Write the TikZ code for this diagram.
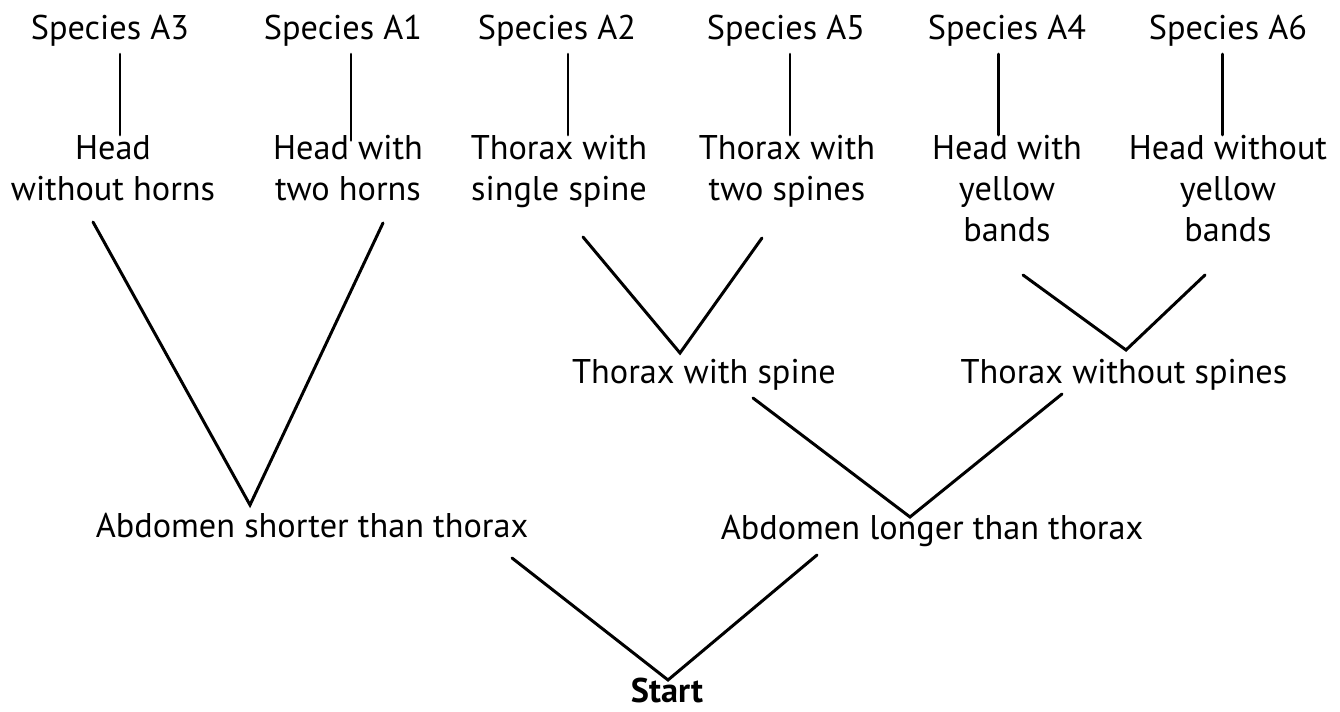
\documentclass[tikz,border=0pt]{standalone}
\usepackage{fontspec}
\setmainfont{PT Sans}
\tikzset{
  key/.style={font=\fontsize{19.5}{23.3}\selectfont, inner sep=0pt},
  keybox/.style={key, align=center, anchor=north},
  link/.style={line width=1.7pt, line cap=round},
}

\begin{document}
\begin{tikzpicture}[x=0.02cm, y=-0.02cm]
  \useasboundingbox (0,0) rectangle (1340,712);
  % species at the tips
  \node[key, anchor=base] (sA3) at (110,40) {Species A3};
  \node[key, anchor=base] (sA1) at (343,40) {Species A1};
  \node[key, anchor=base] (sA2) at (557,40) {Species A2};
  \node[key, anchor=base] (sA5) at (786,40) {Species A5};
  \node[key, anchor=base] (sA4) at (1007,40) {Species A4};
  \node[key, anchor=base] (sA6) at (1228,40) {Species A6};
  % last couplets
  \node[keybox] (hA3) at (113,135) {Head\\without horns};
  \node[keybox] (hA1) at (348,135) {Head with\\two horns};
  \node[keybox] (tA2) at (559,135) {Thorax with\\single spine};
  \node[keybox] (tA5) at (787,135) {Thorax with\\two spines};
  \node[keybox] (hA4) at (1007,135) {Head with\\yellow\\bands};
  \node[keybox] (hA6) at (1228,135) {Head without\\yellow\\bands};
  % middle couplet
  \node[key, anchor=base] (tSp) at (704,384) {Thorax with spine};
  \node[key, anchor=base] (tNo) at (1124,384) {Thorax without spines};
  % first couplet
  \node[key, anchor=base] (aSh) at (312,538) {Abdomen shorter than thorax};
  \node[key, anchor=base] (aLo) at (932,540) {Abdomen longer than thorax};
  \node[key, anchor=base, font=\fontsize{19.5}{23.3}\selectfont\bfseries] (start) at (667,703) {Start};

  % stems
  \coordinate (cA3) at (120,0);
  \coordinate (cA1) at (351,0);
  \coordinate (cA2) at (568,0);
  \coordinate (cA5) at (790,0);
  \coordinate (cA4) at (998,0);
  \coordinate (cA6) at (1222,0);
  \draw[link, shorten <=4pt] (sA3.south -| cA3) -- (hA3.north -| cA3);
  \draw[link, shorten <=4pt, shorten >=-3pt] (sA1.south -| cA1) -- (hA1.north -| cA1);
  \draw[link, shorten <=4pt] (sA2.south -| cA2) -- (tA2.north -| cA2);
  \draw[link, shorten <=4pt] (sA5.south -| cA5) -- (tA5.north -| cA5);
  \draw[link, shorten <=4pt] (sA4.south -| cA4) -- (hA4.north -| cA4);
  \draw[link, shorten <=4pt] (sA6.south -| cA6) -- (hA6.north -| cA6);

  % forks
  \coordinate (hL) at (93,222);   \coordinate (hR) at (383,223);
  \coordinate (tL) at (583,237);  \coordinate (tR) at (762,238);
  \coordinate (yL) at (1023,275); \coordinate (yR) at (1205,275);
  \coordinate (sL) at (753,398);  \coordinate (sR) at (1062,394);
  \coordinate (aL) at (512,558);  \coordinate (aR) at (817,555);
  \coordinate (forkSh) at (250,505);
  \coordinate (forkSp) at (680,353);
  \coordinate (forkNo) at (1126,350);
  \coordinate (forkLo) at (910,517);
  \coordinate (forkSt) at (668,680);
  \draw[link] (hL) -- (forkSh) -- (hR);
  \draw[link] (tL) -- (forkSp) -- (tR);
  \draw[link] (yL) -- (forkNo) -- (yR);
  \draw[link] (sL) -- (forkLo) -- (sR);
  \draw[link] (aL) -- (forkSt) -- (aR);
\end{tikzpicture}
\end{document}
